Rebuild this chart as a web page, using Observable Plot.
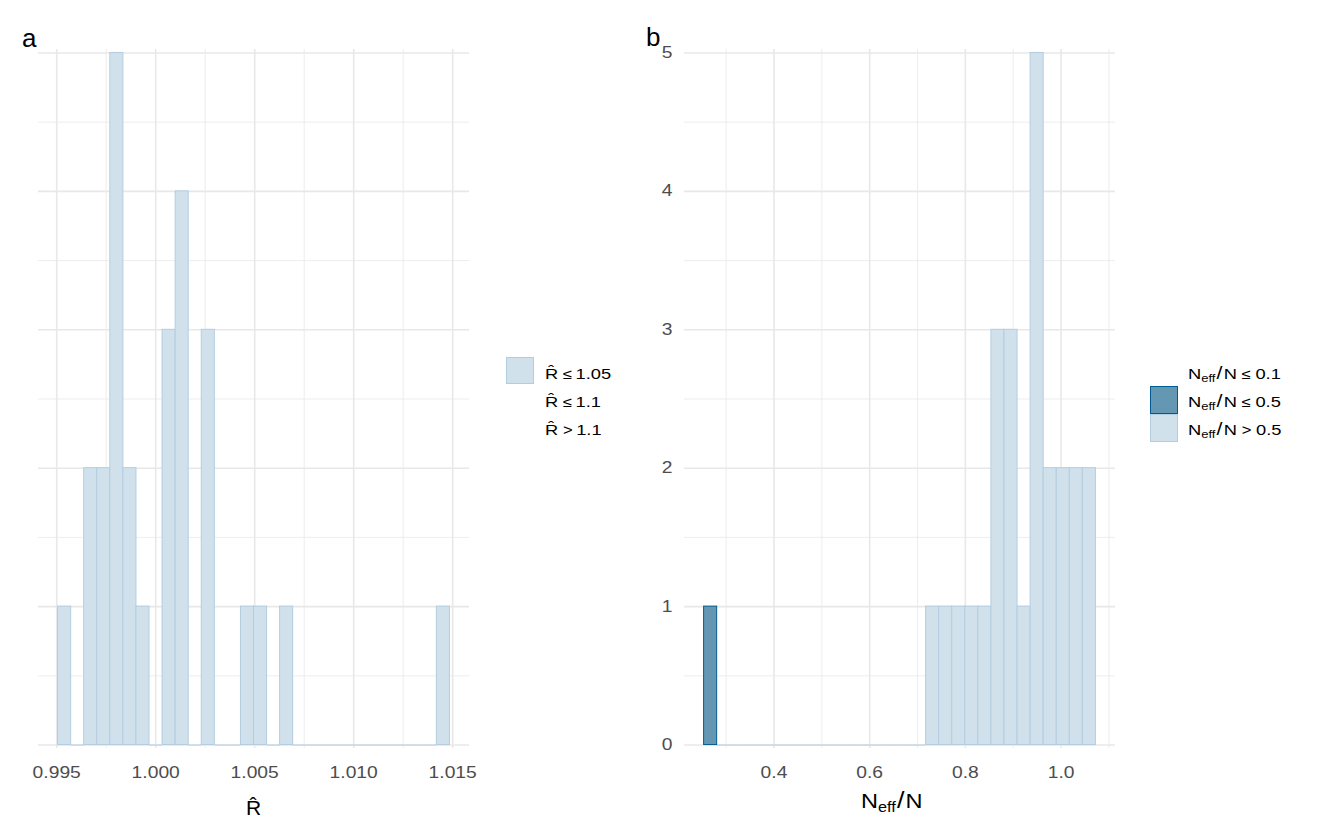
<!DOCTYPE html>
<html><head><meta charset="utf-8">
<script src="https://cdn.jsdelivr.net/npm/d3@7"></script>
<script src="https://cdn.jsdelivr.net/npm/@observablehq/plot@0.6"></script>
<style>
body{margin:0;background:#fff;font-family:"Liberation Sans",Arial,sans-serif;}
#wrap{position:relative;width:1320px;height:840px;overflow:hidden;}
.abs{position:absolute;white-space:nowrap;}
.plot{position:absolute;top:0;}
.sx{display:inline-block;transform-origin:left center;}
.sub{font-size:11px;position:relative;top:3px;}
</style></head><body><div id="wrap"></div>
<script>
// ---- Panel a: R-hat histogram (30 bins) ----
const rhatRange = [0.99507, 1.01486];
const rhatCounts = [1,0,2,2,5,2,1,0,3,4,0,3,0,0,1,1,0,1,0,0,0,0,0,0,0,0,0,0,0,1];
const rhatTicks = [0.995, 1.000, 1.005, 1.010, 1.015];
const rhatMinorTicks = [0.9975, 1.0025, 1.0075, 1.0125];
const rhatLegendLabels = ["\u2264 1.05", "\u2264 1.1", "> 1.1"];
const rhatLegendShown = [true, false, false];

// ---- Panel b: Neff/N histogram (30 bins) ----
const neffRange = [0.2540, 1.0728];
const neffCounts = [1,0,0,0,0,0,0,0,0,0,0,0,0,0,0,0,0,1,1,1,1,1,3,3,1,5,2,2,2,2];
const neffTicks = [0.4, 0.6, 0.8, 1.0];
const neffMinorTicks = [0.3, 0.5, 0.7, 0.9, 1.1];
const neffLegendLabels = ["\u2264 0.1", "\u2264 0.5", "> 0.5"];
const neffLegendShown = [false, true, true];

// ---- shared count axis ----
const countTicks = [0, 1, 2, 3, 4, 5];
const countMinorTicks = [0.5, 1.5, 2.5, 3.5, 4.5];

const LIGHT = "#d1e1ec", LIGHT_HI = "#b3cde0", MID = "#6497b1", MID_HI = "#005b96", DARK = "#03396c", DARK_HI = "#011f4b";
const GRID = "#e8e8e8";
const FONT = "'Liberation Sans', Arial, sans-serif";

function makeBins(range, counts) {
  const w = (range[1] - range[0]) / counts.length;
  return counts.map((c, i) => ({x1: range[0] + i * w, x2: range[0] + (i + 1) * w, count: c}));
}

function panel(bins, o) {
  const lo = bins[0].x1, hi = bins[bins.length - 1].x2, pad = 0.05 * (hi - lo);
  const svg = Plot.plot({
    width: o.width, height: 840,
    marginLeft: o.marginLeft, marginRight: o.marginRight, marginTop: 49, marginBottom: 92,
    style: {fontFamily: FONT, fontSize: "15.8px", color: "#4d4d4d", background: "transparent", overflow: "visible"},
    x: {domain: [lo - pad, hi + pad], ticks: o.ticks, tickFormat: o.fmt, tickSize: 0, tickPadding: 18, label: null},
    y: {domain: [-0.025, 5.025], ticks: countTicks, tickFormat: d3.format("d"), tickSize: 0, tickPadding: 12, label: null, axis: o.showY ? "left" : null},
    color: {type: "identity"},
    marks: [
      Plot.ruleX(o.minor, {stroke: GRID, strokeWidth: 0.8}),
      Plot.ruleX(o.ticks, {stroke: GRID, strokeWidth: 1.6}),
      Plot.ruleY(countMinorTicks, {stroke: GRID, strokeWidth: 0.8}),
      Plot.ruleY(countTicks, {stroke: GRID, strokeWidth: 1.6}),
      Plot.ruleY(bins.filter(d => d.count === 0), {x1: "x1", x2: "x2", y: 0, stroke: LIGHT_HI, strokeWidth: 1}),
      Plot.rectY(bins.filter(d => d.count > 0), {
        x1: "x1", x2: "x2", y1: 0, y2: "count", inset: 0,
        fill: d => o.cat(d).fill, stroke: d => o.cat(d).stroke, strokeWidth: 1
      })
    ]
  });
  // widen tick labels horizontally to match the reference's rendering
  d3.select(svg).selectAll('g[aria-label^="x-axis"] text, g[aria-label^="y-axis"] text').each(function () {
    const t = this.getAttribute("transform") || "";
    const x = +this.getAttribute("x") || 0;
    this.setAttribute("x", 0);
    this.setAttribute("transform", `${t} translate(${x},0) scale(1.22,1)`);
  });
  svg.classList.add("plot");
  svg.style.left = o.left + "px";
  return svg;
}

const wrap = document.getElementById("wrap");

const rhatBins = makeBins(rhatRange, rhatCounts);
wrap.appendChild(panel(rhatBins, {
  left: 0, width: 480, marginLeft: 38, marginRight: 11,
  ticks: rhatTicks, minor: rhatMinorTicks, fmt: d3.format(".3f"), showY: false,
  cat: () => ({fill: LIGHT, stroke: LIGHT_HI})
}));

const neffBins = makeBins(neffRange, neffCounts);
wrap.appendChild(panel(neffBins, {
  left: 640, width: 475, marginLeft: 44, marginRight: 0,
  ticks: neffTicks, minor: neffMinorTicks, fmt: d3.format(".1f"), showY: true,
  cat: d => {
    const m = (d.x1 + d.x2) / 2;
    if (m <= 0.1) return {fill: DARK, stroke: DARK_HI};
    if (m <= 0.5) return {fill: MID, stroke: MID_HI};
    return {fill: LIGHT, stroke: LIGHT_HI};
  }
}));

function addDiv(html, style) {
  const d = document.createElement("div");
  d.className = "abs";
  d.innerHTML = html;
  Object.assign(d.style, style);
  wrap.appendChild(d);
  return d;
}

// panel tags
addDiv("a", {left: "22px", top: "25px", fontSize: "26px", lineHeight: "26px", color: "#000"});
addDiv("b", {left: "646px", top: "24px", fontSize: "26px", lineHeight: "26px", color: "#000"});

// axis titles
addDiv("R\u0302", {left: "253.5px", top: "797px", fontSize: "21px", lineHeight: "21px", color: "#000", transform: "translateX(-50%)"});
addDiv('<span class="sx" style="transform:scaleX(1.12)">N<span style="font-size:14.5px;position:relative;top:4px">eff</span><span style="font-size:24px;margin:0 1px">/</span>N</span>',
  {left: "861px", top: "789px", fontSize: "21px", lineHeight: "21px", color: "#000"});

// legend a
const legBase = [379, 407, 435];
const legColorsA = [[LIGHT, LIGHT_HI], [MID, MID_HI], [DARK, DARK_HI]];
rhatLegendLabels.forEach((lab, i) => {
  if (rhatLegendShown[i]) {
    addDiv("", {left: "506px", top: (legBase[i] - 22) + "px", width: "26px", height: "25px",
      background: legColorsA[i][0], border: "1px solid " + legColorsA[i][1]});
  }
  const [rel, num] = lab.split(" ");
  addDiv(`<span class="sx" style="transform:scaleX(1.18)">R\u0302<span style="margin:0 3px 0 4px;font-size:14px">${rel}</span>${num}</span>`,
    {left: "545px", top: (legBase[i] - 13) + "px", fontSize: "15.5px", lineHeight: "15.5px", color: "#000"});
});

// legend b
const legColorsB = [[DARK, DARK_HI], [MID, MID_HI], [LIGHT, LIGHT_HI]];
neffLegendLabels.forEach((lab, i) => {
  if (neffLegendShown[i]) {
    addDiv("", {left: "1150px", top: (legBase[i] - 21) + "px", width: "26px", height: "25.5px",
      background: legColorsB[i][0], border: "1px solid " + legColorsB[i][1]});
  }
  const [rel, num] = lab.split(" ");
  addDiv(`<span class="sx" style="transform:scaleX(1.18)">N<span class="sub">eff</span><span style="font-size:18px;margin:0 1px">/</span>N<span style="margin:0 4px 0 4px;font-size:14px">${rel}</span>${num}</span>`,
    {left: "1188px", top: (legBase[i] - 13) + "px", fontSize: "15.5px", lineHeight: "15.5px", color: "#000"});
});
</script></body></html>
